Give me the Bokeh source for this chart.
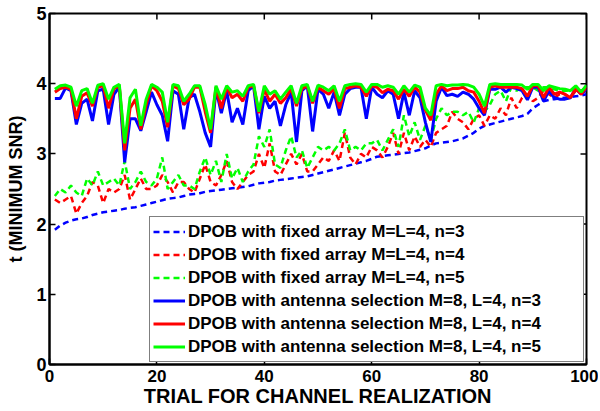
from bokeh.plotting import figure
from bokeh.models import Range1d, FixedTicker
from bokeh.embed import file_html
from bokeh.resources import INLINE

trials = list(range(1, 101))

fixed_n3 = [1.92, 1.98, 2.02, 2.05, 2.07, 2.08, 2.10, 2.13, 2.15, 2.17,
            2.18, 2.19, 2.20, 2.22, 2.23, 2.24, 2.26, 2.28, 2.30, 2.32,
            2.34, 2.36, 2.37, 2.38, 2.40, 2.42, 2.43, 2.44, 2.46, 2.47,
            2.48, 2.49, 2.50, 2.51, 2.52, 2.53, 2.54, 2.56, 2.58, 2.59,
            2.60, 2.62, 2.63, 2.64, 2.65, 2.66, 2.67, 2.68, 2.70, 2.72,
            2.74, 2.76, 2.78, 2.80, 2.82, 2.84, 2.86, 2.88, 2.90, 2.93,
            2.96, 2.97, 2.98, 2.99, 3.00, 3.01, 3.02, 3.04, 3.06, 3.08,
            3.12, 3.15, 3.16, 3.17, 3.18, 3.20, 3.22, 3.26, 3.30, 3.36,
            3.40, 3.42, 3.44, 3.46, 3.48, 3.50, 3.52, 3.54, 3.57, 3.65,
            3.70, 3.75, 3.77, 3.78, 3.79, 3.80, 3.81, 3.82, 3.83, 3.85]

fixed_n4 = [2.35, 2.30, 2.35, 2.40, 2.15, 2.30, 2.40, 2.60, 2.55, 2.30,
            2.50, 2.45, 2.50, 2.70, 2.35, 2.50, 2.65, 2.50, 2.50, 2.55,
            2.70, 2.60, 2.45, 2.60, 2.60, 2.50, 2.45, 2.65, 2.85, 2.60,
            2.55, 2.70, 2.90, 2.60, 2.50, 2.60, 2.70, 2.75, 3.00, 2.80,
            3.15, 2.75, 2.70, 2.85, 3.00, 2.85, 3.00, 2.75, 2.75, 2.85,
            2.95, 2.90, 3.05, 2.90, 3.30, 2.95, 2.85, 3.00, 2.95, 3.10,
            3.05, 2.95, 3.10, 3.30, 3.00, 3.30, 3.05, 3.25, 3.10, 3.20,
            3.10, 3.30, 3.35, 3.40, 3.60, 3.50, 3.45, 3.35, 3.50, 3.55,
            3.40, 3.55, 3.50, 3.65, 3.55, 3.80, 3.65, 3.80, 3.85, 3.75,
            3.80, 3.90, 3.85, 3.80, 3.85, 3.85, 3.80, 3.90, 3.90, 3.92]

fixed_n5 = [2.40, 2.50, 2.45, 2.55, 2.45, 2.40, 2.65, 2.55, 2.75, 2.55,
            2.60, 2.65, 2.55, 2.90, 2.50, 2.60, 2.75, 2.60, 2.55, 2.65,
            2.95, 2.50, 2.60, 2.70, 2.55, 2.55, 2.50, 2.75, 2.95, 2.70,
            2.90, 2.60, 3.00, 2.65, 2.80, 2.60, 2.75, 2.85, 3.25, 3.10,
            3.35, 2.85, 2.80, 3.05, 3.25, 2.95, 3.05, 2.80, 2.95, 3.10,
            3.05, 3.10, 3.05, 3.15, 3.35, 3.05, 3.10, 3.05, 3.15, 3.15,
            3.20, 3.05, 3.20, 3.35, 3.10, 3.55, 3.25, 3.45, 3.20, 3.40,
            3.20, 3.50, 3.65, 3.55, 3.60, 3.60, 3.55, 3.60, 3.45, 3.65,
            3.60, 3.70, 3.85, 3.90, 3.75, 3.95, 3.90, 3.95, 3.95, 3.95,
            3.90, 3.95, 3.95, 3.92, 3.90, 3.90, 3.90, 3.95, 3.90, 3.95]

sel_n3 = [3.79, 3.79, 3.94, 3.90, 3.42, 3.72, 3.78, 3.47, 3.90, 3.92,
          3.42, 3.85, 3.95, 2.88, 3.50, 3.50, 3.33, 3.60, 3.88, 3.70,
          3.55, 3.18, 3.90, 3.85, 3.35, 3.80, 3.85, 3.60, 3.30, 3.10,
          3.92, 3.58, 3.90, 3.45, 3.65, 3.42, 3.90, 3.97, 3.35, 3.82,
          3.65, 3.75, 3.40, 3.70, 3.88, 3.17, 3.90, 3.97, 3.32, 3.92,
          3.85, 3.65, 3.88, 3.55, 3.85, 3.93, 3.95, 3.95, 3.50, 3.95,
          3.85, 3.80, 3.90, 3.85, 3.50, 3.88, 3.55, 3.90, 3.80, 3.45,
          3.17, 3.75, 3.95, 3.83, 3.85, 3.82, 3.88, 3.85, 3.78, 3.65,
          3.55, 3.92, 3.92, 3.95, 3.88, 3.95, 3.93, 3.90, 3.77, 3.95,
          3.95, 3.75, 3.90, 3.80, 3.78, 3.78, 3.80, 3.93, 3.85, 3.92]

sel_n4 = [3.88, 3.93, 3.95, 3.92, 3.50, 3.82, 3.87, 3.68, 3.95, 3.97,
          3.65, 3.93, 3.97, 3.05, 3.65, 3.78, 3.35, 3.70, 3.97, 3.90,
          3.75, 3.38, 3.97, 3.93, 3.70, 3.78, 3.95, 3.95, 3.60, 3.30,
          3.95, 3.65, 3.95, 3.80, 3.85, 3.75, 3.95, 3.97, 3.58, 3.92,
          3.75, 3.85, 3.72, 3.80, 3.93, 3.68, 3.93, 3.97, 3.72, 3.95,
          3.90, 3.85, 3.93, 3.65, 3.93, 3.95, 3.97, 3.95, 3.82, 3.97,
          3.95, 3.87, 3.92, 3.90, 3.78, 3.92, 3.82, 3.95, 3.88, 3.62,
          3.48, 3.85, 3.97, 3.90, 3.93, 3.93, 3.95, 3.90, 3.88, 3.75,
          3.58, 3.95, 3.97, 3.95, 3.95, 3.95, 3.95, 3.93, 3.82, 3.97,
          3.97, 3.80, 3.95, 3.85, 3.88, 3.85, 3.80, 3.93, 3.85, 3.95]

sel_n5 = [3.92, 3.97, 3.98, 3.95, 3.68, 3.90, 3.93, 3.72, 3.98, 4.00,
          3.78, 3.95, 3.99, 3.15, 3.80, 3.92, 3.40, 3.78, 3.99, 3.95,
          3.88, 3.45, 3.99, 3.97, 3.75, 3.85, 3.97, 3.97, 3.70, 3.35,
          3.97, 3.78, 3.97, 3.88, 3.90, 3.82, 3.97, 3.99, 3.60, 3.97,
          3.85, 3.90, 3.78, 3.88, 3.97, 3.72, 3.97, 3.99, 3.75, 3.98,
          3.95, 3.90, 3.97, 3.75, 3.97, 3.99, 4.00, 3.99, 3.88, 3.99,
          3.99, 3.95, 3.97, 3.95, 3.85, 3.97, 3.88, 3.98, 3.95, 3.65,
          3.55, 3.97, 3.99, 3.97, 3.98, 3.98, 3.99, 3.98, 3.95, 3.85,
          3.68, 3.99, 4.00, 3.99, 3.99, 3.99, 3.99, 3.98, 3.92, 3.99,
          3.99, 3.90, 3.97, 3.95, 3.93, 3.92, 3.90, 3.97, 3.88, 3.98]

labels = ["DPOB with fixed array M=L=4, n=3",
          "DPOB with fixed array M=L=4, n=4",
          "DPOB with fixed array M=L=4, n=5",
          "DPOB with antenna selection M=8, L=4, n=3",
          "DPOB with antenna selection M=8, L=4, n=4",
          "DPOB with antenna selection M=8, L=4, n=5"]

x_ticks = [0, 20, 40, 60, 80, 100]
y_ticks = [0, 1, 2, 3, 4, 5]
x_min, x_max = 0, 100
y_min, y_max = 0, 5

FONT = "Liberation Sans"

p = figure(width=598, height=411, output_backend="svg", toolbar_location=None,
           x_range=Range1d(x_min, x_max), y_range=Range1d(y_min, y_max),
           min_border_left=49, min_border_right=12, min_border_top=13,
           min_border_bottom=47, background_fill_color="white",
           border_fill_color="white")

p.grid.visible = False
p.outline_line_color = "black"
p.outline_line_width = 2

p.line(trials, fixed_n3, color="#0000ff", line_width=2.5, line_dash="6 4", legend_label=labels[0])
p.line(trials, fixed_n4, color="#ff0000", line_width=2.5, line_dash="6 4", legend_label=labels[1])
p.line(trials, fixed_n5, color="#00ff00", line_width=2.5, line_dash="6 4", legend_label=labels[2])
p.line(trials, sel_n3, color="#0000ff", line_width=3, legend_label=labels[3])
p.line(trials, sel_n4, color="#ff0000", line_width=3, legend_label=labels[4])
p.line(trials, sel_n5, color="#00ff00", line_width=3, legend_label=labels[5])

# mirrored ticks on the top and right edges (MATLAB box style)
tx = (x_max - x_min) * 6 / 538.0
ty = (y_max - y_min) * 6 / 351.0
p.segment(x0=x_ticks, y0=[y_max] * len(x_ticks), x1=x_ticks,
          y1=[y_max - ty] * len(x_ticks), line_color="black", line_width=1.5)
p.segment(x0=[x_max] * len(y_ticks), y0=y_ticks, x1=[x_max - tx] * len(y_ticks),
          y1=y_ticks, line_color="black", line_width=1.5)

xa = p.below[0]
ya = p.left[0]
xa.ticker = FixedTicker(ticks=x_ticks)
ya.ticker = FixedTicker(ticks=y_ticks)

for ax in (xa, ya):
    ax.axis_line_color = "black"
    ax.axis_line_width = 2
    ax.major_tick_in = 6
    ax.major_tick_out = 0
    ax.major_tick_line_width = 1.5
    ax.minor_tick_line_color = None
    ax.major_label_text_font = FONT
    ax.major_label_text_font_style = "bold"
    ax.major_label_text_font_size = "17px"
    ax.major_label_text_color = "black"
    ax.axis_label_text_font = FONT
    ax.axis_label_text_font_style = "bold"
    ax.axis_label_text_color = "black"

ya.major_label_text_font_size = "18px"
xa.major_label_standoff = 5
ya.major_label_standoff = 3

xa.axis_label = "TRIAL FOR CHANNEL REALIZATION"
ya.axis_label = "t (MINIMUM SNR)"
xa.axis_label_text_font_size = "20px"
xa.axis_label_standoff = 0
ya.axis_label_text_font_size = "18px"
ya.axis_label_standoff = 7

lg = p.legend[0]
lg.location = "bottom_right"
lg.margin = 2
lg.padding = 3
lg.spacing = 0
lg.label_height = 23
lg.glyph_height = 23
lg.glyph_width = 32
lg.label_standoff = 3
lg.label_width = 392
lg.label_text_font = FONT
lg.label_text_font_style = "bold"
lg.label_text_font_size = "17px"
lg.label_text_color = "black"
lg.border_line_color = "black"
lg.border_line_width = 1.5
lg.background_fill_alpha = 1.0
lg.background_fill_color = "white"

open("out.html", "w").write(file_html(p, INLINE))
